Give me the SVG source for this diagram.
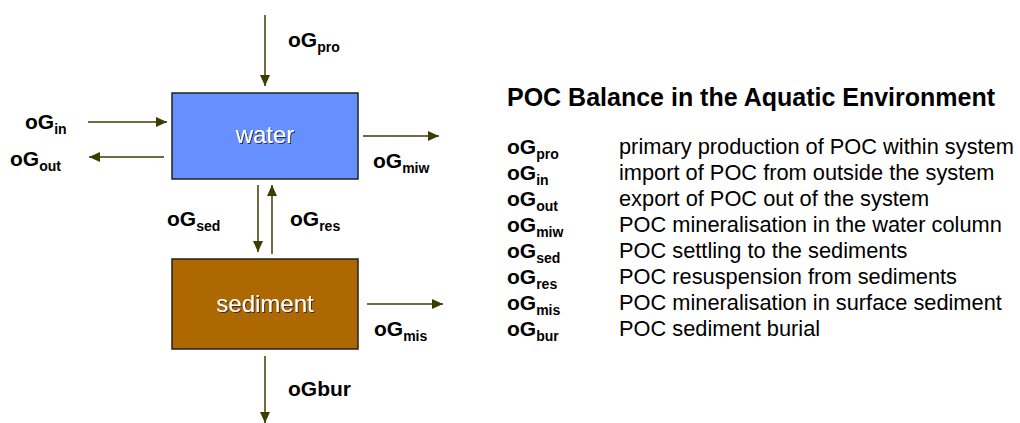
<svg xmlns="http://www.w3.org/2000/svg" width="1020" height="423" viewBox="0 0 1020 423">
<style>
.lbl{font-family:"Liberation Sans",Arial,sans-serif;font-weight:bold;font-size:21px;fill:#000}
.sub{font-size:14px}
.box{stroke:#222;stroke-width:1.5}
.boxt{font-family:"Liberation Sans",Arial,sans-serif;font-size:24px;fill:#fff;text-anchor:middle;filter:url(#sh)}
.arr{stroke:#3d3d00;stroke-width:1.5;fill:none;marker-end:url(#ah)}
.title{font-family:"Liberation Sans",Arial,sans-serif;font-weight:bold;font-size:25px;fill:#000}
.desc{font-family:"Liberation Sans",Arial,sans-serif;font-size:21.8px;fill:#000}
</style>
<defs>
<marker id="ah" markerUnits="userSpaceOnUse" markerWidth="12" markerHeight="10" refX="11" refY="5" orient="auto">
<path d="M0,0 L11,5 L0,10 Z" fill="#3d3d00"/>
</marker>
<filter id="sh" x="-10%" y="-10%" width="130%" height="140%">
<feDropShadow dx="1" dy="1" stdDeviation="0.4" flood-color="#222" flood-opacity="0.9"/>
</filter>
</defs>
<rect width="1020" height="423" fill="#fff"/>
<g id="water">
<rect class="box" x="172" y="93" width="186" height="86" fill="#6690ff"/>
<text class="boxt" x="265" y="143">water</text>
</g>
<g id="sediment">
<rect class="box" x="172" y="259" width="186" height="90" fill="#ad6900"/>
<text class="boxt" x="265" y="312">sediment</text>
</g>
<g id="connectors">
<line class="arr" x1="265" y1="15" x2="265" y2="86"/>
<line class="arr" x1="88" y1="122" x2="167" y2="122"/>
<line class="arr" x1="164" y1="157" x2="89" y2="157"/>
<line class="arr" x1="363" y1="136" x2="439" y2="136"/>
<line class="arr" x1="258" y1="185" x2="258" y2="252"/>
<line class="arr" x1="272" y1="254" x2="272" y2="185"/>
<line class="arr" x1="367" y1="304" x2="443" y2="304"/>
<line class="arr" x1="265" y1="356" x2="265" y2="423"/>
</g>
<g id="labels">
<text class="lbl" x="288" y="47">oG<tspan class="sub" dy="5">pro</tspan></text>
<text class="lbl" x="25" y="129">oG<tspan class="sub" dy="5">in</tspan></text>
<text class="lbl" x="10" y="166">oG<tspan class="sub" dy="5">out</tspan></text>
<text class="lbl" x="373" y="168">oG<tspan class="sub" dy="5">miw</tspan></text>
<text class="lbl" x="167" y="226">oG<tspan class="sub" dy="5">sed</tspan></text>
<text class="lbl" x="290" y="226">oG<tspan class="sub" dy="5">res</tspan></text>
<text class="lbl" x="374" y="336">oG<tspan class="sub" dy="5">mis</tspan></text>
<text class="lbl" x="288" y="396">oGbur</text>
</g>
<g id="legend">
<text class="title" x="507" y="106">POC Balance in the Aquatic Environment</text>
<text class="lbl" x="507" y="154">oG<tspan class="sub" dy="5">pro</tspan></text>
<text class="lbl" x="507" y="180">oG<tspan class="sub" dy="5">in</tspan></text>
<text class="lbl" x="507" y="206">oG<tspan class="sub" dy="5">out</tspan></text>
<text class="lbl" x="507" y="232">oG<tspan class="sub" dy="5">miw</tspan></text>
<text class="lbl" x="507" y="258">oG<tspan class="sub" dy="5">sed</tspan></text>
<text class="lbl" x="507" y="284">oG<tspan class="sub" dy="5">res</tspan></text>
<text class="lbl" x="507" y="310">oG<tspan class="sub" dy="5">mis</tspan></text>
<text class="lbl" x="507" y="336">oG<tspan class="sub" dy="5">bur</tspan></text>
<text class="desc" x="619" y="154">primary production of POC within system</text>
<text class="desc" x="619" y="180">import of POC from outside the system</text>
<text class="desc" x="619" y="206">export of POC out of the system</text>
<text class="desc" x="619" y="232">POC mineralisation in the water column</text>
<text class="desc" x="619" y="258">POC settling to the sediments</text>
<text class="desc" x="619" y="284">POC resuspension from sediments</text>
<text class="desc" x="619" y="310">POC mineralisation in surface sediment</text>
<text class="desc" x="619" y="336">POC sediment burial</text>
</g>
</svg>
